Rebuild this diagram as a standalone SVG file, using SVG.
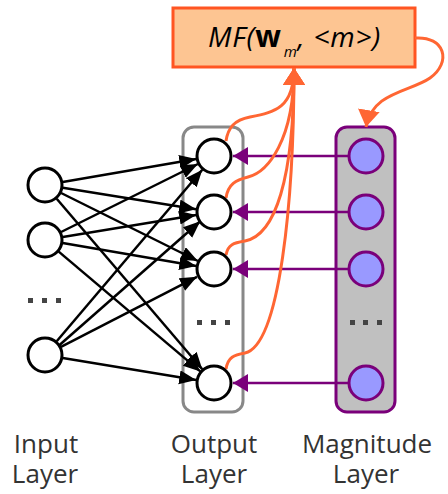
<svg xmlns="http://www.w3.org/2000/svg" width="448" height="494" viewBox="0 0 448 494">
<style>
.blk{fill:none;stroke:#000;stroke-width:2.5;marker-end:url(#ab)}
.pur{fill:none;stroke:#7a007a;stroke-width:2.5;marker-end:url(#ap)}
.org{fill:none;stroke:#ff6633;stroke-width:3;marker-end:url(#ao)}
.nw{fill:#fff;stroke:#000;stroke-width:3}
.nm{fill:#9999ff;stroke:#7a007a;stroke-width:3}
.dot{fill:#444}
.lbl{font-family:"Open Sans",sans-serif;font-size:26px;fill:#333;text-anchor:middle}
</style>
<defs>
<marker id="ab" markerUnits="userSpaceOnUse" markerWidth="18" markerHeight="15" refX="17" refY="7" orient="auto"><path d="M0,0 L17,7 L0,14 z" fill="#000"/></marker>
<marker id="ap" markerUnits="userSpaceOnUse" markerWidth="16" markerHeight="19" refX="15" refY="9" orient="auto"><path d="M0,0 L15,9 L0,18 z" fill="#7a007a"/></marker>
<marker id="ao" markerUnits="userSpaceOnUse" markerWidth="18" markerHeight="23" refX="17" refY="11" orient="auto"><path d="M0,0 L17,11 L0,22 z" fill="#ff6633"/></marker>
</defs>
<g id="output-layer-box"><rect x="183" y="127" width="60" height="285" rx="11" fill="#fff" stroke="#888" stroke-width="3"/></g>
<g id="magnitude-layer-box"><rect x="336" y="127" width="59" height="285" rx="11" fill="#c0c0c0" stroke="#7a007a" stroke-width="3"/></g>
<g id="mf-box"><rect x="173" y="8" width="242" height="59" fill="#fdc592" stroke="#ff5522" stroke-width="3"/>
<text x="208" y="47" font-family="Open Sans, sans-serif" font-size="28" font-style="italic" letter-spacing="0.8" fill="#000">MF(<tspan font-weight="bold" font-style="normal" font-size="30">w</tspan><tspan font-size="15" dx="2" dy="10">m</tspan><tspan dy="-10">, &lt;m&gt;)</tspan></text></g>
<g id="connectors">
<path class="blk" d="M62.7,182 L196.3,159"/>
<path class="blk" d="M62.8,187.8 L196.2,209.2"/>
<path class="blk" d="M61.1,193 L197.9,261"/>
<path class="blk" d="M56.7,198.7 L202.3,369.3"/>
<path class="blk" d="M61.1,232 L197.9,164"/>
<path class="blk" d="M62.8,237.1 L196.2,214.9"/>
<path class="blk" d="M62.7,243 L196.3,266"/>
<path class="blk" d="M58.7,251.6 L200.3,371.4"/>
<path class="blk" d="M56.7,341.3 L202.3,169.7"/>
<path class="blk" d="M58.7,345.7 L200.3,221.3"/>
<path class="blk" d="M61,346.8 L197,276.8"/>
<path class="blk" d="M62.8,357.9 L196.2,380.1"/>
<path class="pur" d="M348,156 L233,156"/>
<path class="pur" d="M348,212 L233,212"/>
<path class="pur" d="M348,269 L233,269"/>
<path class="pur" d="M348,383 L233,383"/>
<path class="org" d="M226,141 C228,128 234,120 250,117 C275,112 294,108 294,68"/>
<path class="org" d="M226,198 C228,184 236,180 248,177 C268,172 294,140 294,68"/>
<path class="org" d="M226,255 C228,244 234,243 245,241 C275,235 294,180 294,68"/>
<path class="org" d="M226,369 C228,357 234,355 245,353 C280,345 294,200 294,68"/>
<path class="org" d="M415,38 C445,36 452,62 430,78 C410,92 372,92 366,127"/>
</g>
<g id="input-nodes">
<circle class="nw" cx="45" cy="185" r="17"/>
<circle class="nw" cx="45" cy="240" r="17"/>
<circle class="nw" cx="45" cy="355" r="17"/>
<rect class="dot" x="28" y="298" width="5" height="5"/><rect class="dot" x="42" y="298" width="5" height="5"/><rect class="dot" x="56" y="298" width="5" height="5"/>
</g>
<g id="output-nodes">
<circle class="nw" cx="214" cy="156" r="17"/>
<circle class="nw" cx="214" cy="212" r="17"/>
<circle class="nw" cx="214" cy="269" r="17"/>
<circle class="nw" cx="214" cy="383" r="17"/>
<rect class="dot" x="197" y="320" width="5" height="5"/><rect class="dot" x="211" y="320" width="5" height="5"/><rect class="dot" x="225" y="320" width="5" height="5"/>
</g>
<g id="magnitude-nodes">
<circle class="nm" cx="366" cy="156" r="17"/>
<circle class="nm" cx="366" cy="212" r="17"/>
<circle class="nm" cx="366" cy="269" r="17"/>
<circle class="nm" cx="366" cy="383" r="17"/>
<rect class="dot" x="350" y="320" width="5" height="5"/><rect class="dot" x="363" y="320" width="5" height="5"/><rect class="dot" x="377" y="320" width="5" height="5"/>
</g>
<g id="labels">
<text class="lbl"><tspan x="46" y="453">Input</tspan><tspan x="45" y="483">Layer</tspan></text>
<text class="lbl"><tspan x="214" y="453">Output</tspan><tspan x="214" y="483">Layer</tspan></text>
<text class="lbl"><tspan x="367" y="453">Magnitude</tspan><tspan x="366" y="483">Layer</tspan></text>
</g>
</svg>
